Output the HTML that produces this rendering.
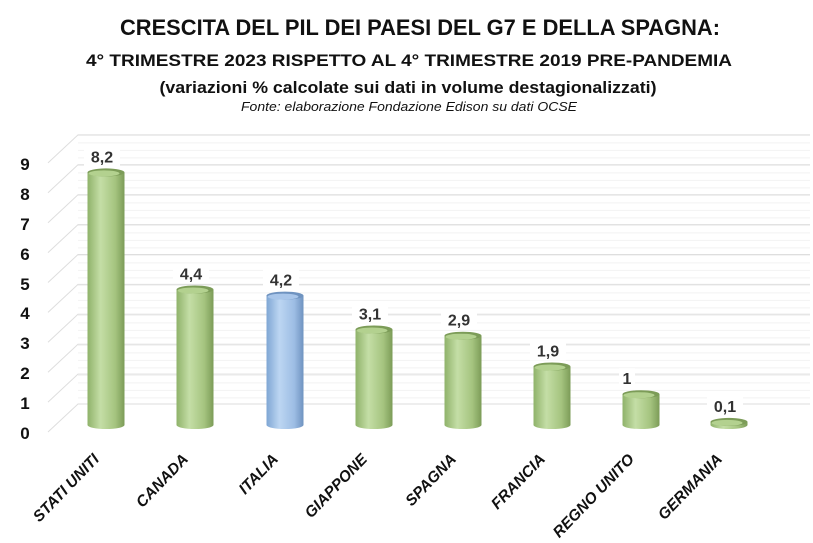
<!DOCTYPE html>
<html><head><meta charset="utf-8"><style>
html,body{margin:0;padding:0;background:#fff;}
svg{display:block;font-family:"Liberation Sans",sans-serif;}
</style></head><body>
<svg width="813" height="543" viewBox="0 0 813 543" xmlns="http://www.w3.org/2000/svg">
<defs>
<linearGradient id="g" x1="0" x2="1" y1="0" y2="0">
<stop offset="0" stop-color="#8fb26a"/><stop offset="0.35" stop-color="#c4dea6"/><stop offset="0.75" stop-color="#a5c47f"/><stop offset="1" stop-color="#7c9c58"/></linearGradient>
<linearGradient id="b" x1="0" x2="1" y1="0" y2="0">
<stop offset="0" stop-color="#7fa6d4"/><stop offset="0.35" stop-color="#bcd6f2"/><stop offset="0.75" stop-color="#9dbde4"/><stop offset="1" stop-color="#6f93c0"/></linearGradient>
<pattern id="minor" x="0" y="134.9" width="10" height="7.5" patternUnits="userSpaceOnUse">
<line x1="0" y1="0.5" x2="10" y2="0.5" stroke="#f2f2f2" stroke-width="1"/></pattern>
</defs>
<g font-weight="bold" fill="#111" text-anchor="middle">
<text x="420" y="35" font-size="22" textLength="600" lengthAdjust="spacingAndGlyphs">CRESCITA DEL PIL DEI PAESI DEL G7 E DELLA SPAGNA:</text>
<text x="409" y="66" font-size="17" textLength="646" lengthAdjust="spacingAndGlyphs">4° TRIMESTRE 2023 RISPETTO AL 4° TRIMESTRE 2019 PRE-PANDEMIA</text>
<text x="408" y="93" font-size="17" textLength="497" lengthAdjust="spacingAndGlyphs">(variazioni % calcolate sui dati in volume destagionalizzati)</text>
<text x="409" y="111" font-size="12.5" font-weight="normal" font-style="italic" textLength="336" lengthAdjust="spacingAndGlyphs">Fonte: elaborazione Fondazione Edison su dati OCSE</text>
</g>
<rect x="78" y="134.9" width="732" height="269.1" fill="url(#minor)"/>
<g stroke="#dedede" stroke-width="1" fill="none">
<path d="M48 432L78 404H810M48 402.1L78 374.1H810M48 372.2L78 344.2H810M48 342.3L78 314.3H810M48 312.4L78 284.4H810M48 282.5L78 254.5H810M48 252.6L78 224.6H810M48 222.7L78 194.7H810M48 192.8L78 164.8H810M48 162.9L78 134.9H810"/>
</g>
<g font-weight="bold" font-size="17" fill="#111" text-anchor="middle">
<text x="25" y="439">0</text><text x="25" y="409">1</text><text x="25" y="379">2</text><text x="25" y="349">3</text><text x="25" y="319">4</text><text x="25" y="290">5</text><text x="25" y="260">6</text><text x="25" y="230">7</text><text x="25" y="200">8</text><text x="25" y="170">9</text>
</g>
<g>
<ellipse cx="106" cy="425" rx="18.5" ry="4" fill="url(#g)"/><rect x="87.5" y="172.4" width="37" height="252.6" fill="url(#g)"/><ellipse cx="106" cy="172.4" rx="18.5" ry="4" fill="#7c9c58"/><ellipse cx="104" cy="173.4" rx="15.5" ry="3" fill="#b3d18f"/>
<ellipse cx="195" cy="425" rx="18.5" ry="4" fill="url(#g)"/><rect x="176.5" y="289.5" width="37" height="135.5" fill="url(#g)"/><ellipse cx="195" cy="289.5" rx="18.5" ry="4" fill="#7c9c58"/><ellipse cx="193" cy="290.5" rx="15.5" ry="3" fill="#b3d18f"/>
<ellipse cx="285" cy="425" rx="18.5" ry="4" fill="url(#b)"/><rect x="266.5" y="295.6" width="37" height="129.4" fill="url(#b)"/><ellipse cx="285" cy="295.6" rx="18.5" ry="4" fill="#6f93c0"/><ellipse cx="283" cy="296.6" rx="15.5" ry="3" fill="#a9c6ea"/>
<ellipse cx="374" cy="425" rx="18.5" ry="4" fill="url(#g)"/><rect x="355.5" y="329.5" width="37" height="95.5" fill="url(#g)"/><ellipse cx="374" cy="329.5" rx="18.5" ry="4" fill="#7c9c58"/><ellipse cx="372" cy="330.5" rx="15.5" ry="3" fill="#b3d18f"/>
<ellipse cx="463" cy="425" rx="18.5" ry="4" fill="url(#g)"/><rect x="444.5" y="335.7" width="37" height="89.3" fill="url(#g)"/><ellipse cx="463" cy="335.7" rx="18.5" ry="4" fill="#7c9c58"/><ellipse cx="461" cy="336.7" rx="15.5" ry="3" fill="#b3d18f"/>
<ellipse cx="552" cy="425" rx="18.5" ry="4" fill="url(#g)"/><rect x="533.5" y="366.5" width="37" height="58.5" fill="url(#g)"/><ellipse cx="552" cy="366.5" rx="18.5" ry="4" fill="#7c9c58"/><ellipse cx="550" cy="367.5" rx="15.5" ry="3" fill="#b3d18f"/>
<ellipse cx="641" cy="425" rx="18.5" ry="4" fill="url(#g)"/><rect x="622.5" y="394.2" width="37" height="30.8" fill="url(#g)"/><ellipse cx="641" cy="394.2" rx="18.5" ry="4" fill="#7c9c58"/><ellipse cx="639" cy="395.2" rx="15.5" ry="3" fill="#b3d18f"/>
<ellipse cx="729" cy="425" rx="18.5" ry="4" fill="url(#g)"/><rect x="710.5" y="421.9" width="37" height="3.1" fill="url(#g)"/><ellipse cx="729" cy="421.9" rx="18.5" ry="4" fill="#7c9c58"/><ellipse cx="727" cy="422.9" rx="15.5" ry="3" fill="#b3d18f"/>
</g>
<g fill="#fff">
<rect x="84" y="146.4" width="36" height="20"/><rect x="173" y="263.5" width="36" height="20"/><rect x="263" y="269.6" width="36" height="20"/><rect x="352" y="303.5" width="36" height="20"/><rect x="441" y="309.7" width="36" height="20"/><rect x="530" y="340.5" width="36" height="20"/><rect x="619" y="368.2" width="16" height="20"/><rect x="707" y="395.9" width="36" height="20"/>
</g>
<g font-weight="bold" font-size="16" fill="#333" text-anchor="middle">
<text x="102" y="162.4">8,2</text><text x="191" y="279.5">4,4</text><text x="281" y="285.6">4,2</text><text x="370" y="319.5">3,1</text><text x="459" y="325.7">2,9</text><text x="548" y="356.5">1,9</text><text x="627" y="384.2">1</text><text x="725" y="411.9">0,1</text>
</g>
<g font-weight="bold" font-style="italic" font-size="15.5" fill="#111" text-anchor="end">
<text transform="translate(100,460) rotate(-46)">STATI UNITI</text>
<text transform="translate(189,460) rotate(-46)">CANADA</text>
<text transform="translate(279,460) rotate(-46)">ITALIA</text>
<text transform="translate(368,460) rotate(-46)">GIAPPONE</text>
<text transform="translate(457,460) rotate(-46)">SPAGNA</text>
<text transform="translate(546,460) rotate(-46)">FRANCIA</text>
<text transform="translate(635,460) rotate(-46)">REGNO UNITO</text>
<text transform="translate(723,460) rotate(-46)">GERMANIA</text>
</g>
</svg>
</body></html>
